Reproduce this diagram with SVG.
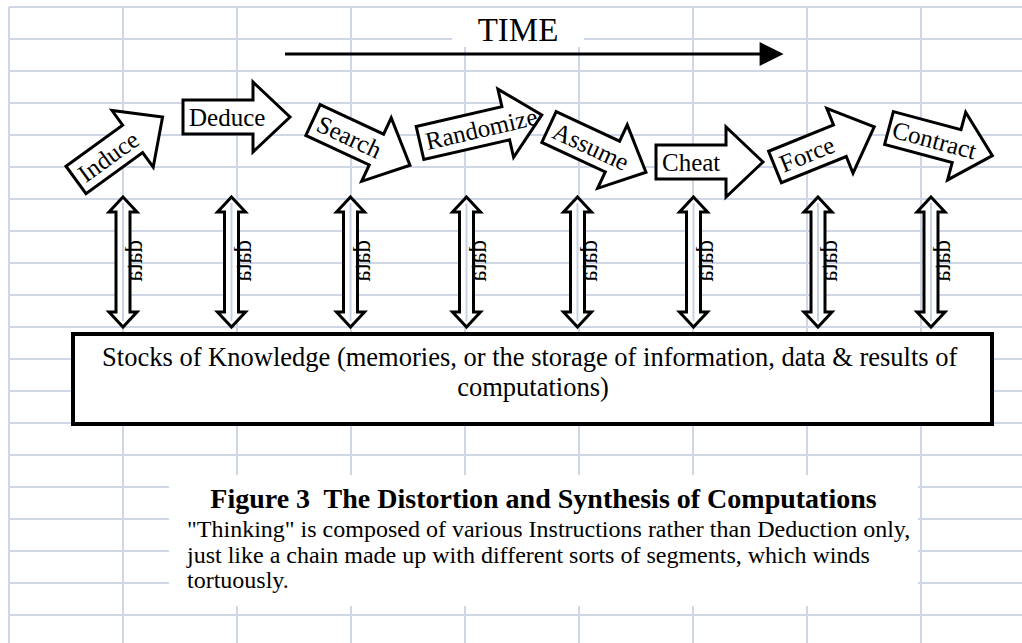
<svg xmlns="http://www.w3.org/2000/svg" width="1022" height="643" viewBox="0 0 1022 643">
  <style>
    .grid { stroke: #cfd7e6; stroke-width: 2; fill: none; }
    .mask { fill: #ffffff; stroke: none; }
    .blk { fill: #ffffff; stroke: #000000; stroke-width: 3; stroke-linejoin: miter; }
    .dbl { fill: #ffffff; stroke: #000000; stroke-width: 3; stroke-linejoin: miter; }
    .core { stroke: #c8d2e4; stroke-width: 2; }
    .serif { font-family: "Liberation Serif", "Times New Roman", serif; fill: #000000; }
    .lbl { font-size: 25px; }
    .vt { font-size: 25px; }
    .box { fill: #ffffff; stroke: #000000; stroke-width: 4; }
    .pre { white-space: pre; }
  </style>
  <defs>
    <!-- block arrow, tail centred at origin, pointing along +x -->
    <path id="blk107" d="M0,-17 H70 V-35 L107,0 L70,35 V17 H0 Z"/>
    <path id="blk125" d="M0,-17 H88 V-35 L125,0 L88,35 V17 H0 Z"/>
    <!-- vertical double arrow centred on x=0 -->
    <path id="dblarrow" d="M0,197 L14,212 H7 V312 H14 L0,327 L-14,312 H-7 V212 H-14 Z"/>
    <marker id="timehead" viewBox="0 0 10 10" refX="1" refY="5" markerWidth="8.5" markerHeight="8" markerUnits="strokeWidth" orient="auto">
      <path d="M0,0 L10,5 L0,10 Z" fill="#000000"/>
    </marker>
  </defs>

  <rect width="1022" height="643" fill="#ffffff"/>

  <!-- worksheet grid -->
  <g id="grid">
    <path class="grid" d="M9,7 V643 M123,7 V643 M237,7 V643 M351,7 V643 M465,7 V643 M579,7 V643 M693,7 V643 M807,7 V643 M921,7 V643"/>
    <path class="grid" d="M9,7 H1022 M9,39 H1022 M9,71 H1022 M9,103 H1022 M9,135 H1022 M9,167 H1022 M9,199 H1022 M9,231 H1022 M9,263 H1022 M9,295 H1022 M9,327 H1022 M9,359 H1022 M9,391 H1022 M9,423 H1022 M9,455 H1022 M9,487 H1022 M9,519 H1022 M9,551 H1022 M9,583 H1022 M9,615 H1022"/>
  </g>

  <!-- time axis -->
  <g id="time">
    <rect class="mask" x="452" y="8" width="132" height="39"/>
    <text class="serif" x="518" y="41" font-size="33" text-anchor="middle">TIME</text>
    <line x1="285" y1="54" x2="762" y2="54" stroke="#000000" stroke-width="3" marker-end="url(#timehead)"/>
  </g>

  <!-- instruction arrows -->
  <g id="induce" transform="translate(76,180) rotate(-36)">
    <use href="#blk107" class="blk"/>
    <text class="serif lbl" x="6" y="8.5">Induce</text>
  </g>
  <g id="deduce" transform="translate(183,117)">
    <use href="#blk107" class="blk"/>
    <text class="serif lbl" x="6" y="8.5">Deduce</text>
  </g>
  <g id="search" transform="translate(313,120) rotate(25)">
    <use href="#blk107" class="blk"/>
    <text class="serif lbl" x="6" y="8.5">Search</text>
  </g>
  <g id="randomize" transform="translate(420,143) rotate(-13)">
    <use href="#blk125" class="blk"/>
    <text class="serif lbl" x="6" y="8.5">Randomize</text>
  </g>
  <g id="assume" transform="translate(549,127) rotate(25)">
    <use href="#blk107" class="blk"/>
    <text class="serif lbl" x="6" y="8.5">Assume</text>
  </g>
  <g id="cheat" transform="translate(656,162)">
    <use href="#blk107" class="blk"/>
    <text class="serif lbl" x="6" y="8.5">Cheat</text>
  </g>
  <g id="force" transform="translate(775,167) rotate(-22)">
    <use href="#blk107" class="blk"/>
    <text class="serif lbl" x="6" y="8.5">Force</text>
  </g>
  <g id="contract" transform="translate(889,128) rotate(15)">
    <use href="#blk107" class="blk"/>
    <text class="serif lbl" x="4" y="8.5">Contract</text>
  </g>

  <!-- data links between instructions and the knowledge store -->
  <g id="links">
    <g transform="translate(123,0)"><use href="#dblarrow" class="dbl"/><line class="core" x1="0" y1="203" x2="0" y2="321"/></g>
    <g transform="translate(231.5,0)"><use href="#dblarrow" class="dbl"/><line class="core" x1="0" y1="203" x2="0" y2="321"/></g>
    <g transform="translate(350.5,0)"><use href="#dblarrow" class="dbl"/><line class="core" x1="0" y1="203" x2="0" y2="321"/></g>
    <g transform="translate(466.5,0)"><use href="#dblarrow" class="dbl"/><line class="core" x1="0" y1="203" x2="0" y2="321"/></g>
    <g transform="translate(577.5,0)"><use href="#dblarrow" class="dbl"/><line class="core" x1="0" y1="203" x2="0" y2="321"/></g>
    <g transform="translate(693.5,0)"><use href="#dblarrow" class="dbl"/><line class="core" x1="0" y1="203" x2="0" y2="321"/></g>
    <g transform="translate(818,0)"><use href="#dblarrow" class="dbl"/><line class="core" x1="0" y1="203" x2="0" y2="321"/></g>
    <g transform="translate(931,0)"><use href="#dblarrow" class="dbl"/><line class="core" x1="0" y1="203" x2="0" y2="321"/></g>
    <text class="serif vt" transform="matrix(0 1 1 0 142 240)">data</text>
    <text class="serif vt" transform="matrix(0 1 1 0 250.5 240)">data</text>
    <text class="serif vt" transform="matrix(0 1 1 0 369.5 240)">data</text>
    <text class="serif vt" transform="matrix(0 1 1 0 485.5 240)">data</text>
    <text class="serif vt" transform="matrix(0 1 1 0 596.5 240)">data</text>
    <text class="serif vt" transform="matrix(0 1 1 0 712.5 240)">data</text>
    <text class="serif vt" transform="matrix(0 1 1 0 837 240)">data</text>
    <text class="serif vt" transform="matrix(0 1 1 0 950 240)">data</text>
  </g>

  <!-- knowledge store -->
  <g id="stocks">
    <rect class="box" x="73" y="334" width="919" height="90"/>
    <text class="serif" font-size="26.5" text-anchor="middle">
      <tspan x="533" y="366">Stocks of Knowledge (memories, or the storage of information, data &amp; results of</tspan>
      <tspan x="533" y="396">computations)</tspan>
    </text>
  </g>

  <!-- caption -->
  <g id="caption">
    <rect class="mask" x="169" y="475" width="749" height="131"/>
    <text class="serif pre" x="543.5" y="508" font-size="28" font-weight="bold" text-anchor="middle" xml:space="preserve">Figure 3  The Distortion and Synthesis of Computations</text>
    <text class="serif" font-size="24">
      <tspan x="187" y="537">"Thinking" is composed of various Instructions rather than Deduction only,</tspan>
      <tspan x="187" y="562.5">just like a chain made up with different sorts of segments, which winds</tspan>
      <tspan x="187" y="588">tortuously.</tspan>
    </text>
  </g>
</svg>
